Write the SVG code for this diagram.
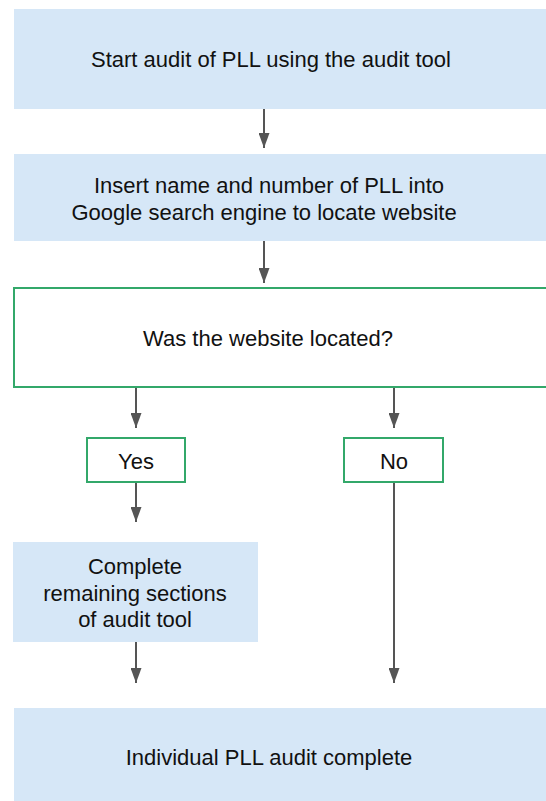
<svg xmlns="http://www.w3.org/2000/svg" width="546" height="801" viewBox="0 0 546 801">
<style>
.proc{fill:#d6e7f7;stroke:none}
.dec{fill:#ffffff;stroke:#33a86a;stroke-width:2}
.t{font-family:"Liberation Sans",Arial,sans-serif;font-size:22px;fill:#111;text-anchor:middle}
.c{stroke:#555555;stroke-width:2;fill:none;marker-end:url(#ah)}
</style>
<defs>
<marker id="ah" viewBox="0 0 15 11" refX="15" refY="5.5" markerWidth="15" markerHeight="11" markerUnits="userSpaceOnUse" orient="auto">
<path d="M0,0 L15,5.5 L0,11 Z" fill="#555555"/>
</marker>
</defs>
<rect width="546" height="801" fill="#ffffff"/>
<g id="connectors">
<line class="c" x1="264" y1="109" x2="264" y2="148"/>
<line class="c" x1="264" y1="241" x2="264" y2="283"/>
<line class="c" x1="136" y1="388" x2="136" y2="428"/>
<line class="c" x1="394" y1="388" x2="394" y2="428"/>
<line class="c" x1="136" y1="483" x2="136" y2="522"/>
<line class="c" x1="136" y1="642" x2="136" y2="683"/>
<line class="c" x1="394" y1="483" x2="394" y2="683"/>
</g>
<g id="start">
<rect class="proc" x="14" y="9" width="532" height="100"/>
<text class="t" x="271" y="67">Start audit of PLL using the audit tool</text>
</g>
<g id="insert">
<rect class="proc" x="14" y="154" width="532" height="87"/>
<text class="t" x="269" y="193">Insert name and number of PLL into</text>
<text class="t" x="264" y="220">Google search engine to locate website</text>
</g>
<g id="decision">
<rect class="dec" x="14" y="288" width="540" height="99"/>
<text class="t" x="268" y="346">Was the website located?</text>
</g>
<g id="yes">
<rect class="dec" x="87" y="438" width="98" height="44"/>
<text class="t" x="136" y="469">Yes</text>
</g>
<g id="no">
<rect class="dec" x="344" y="438" width="99" height="44"/>
<text class="t" x="394" y="469">No</text>
</g>
<g id="complete">
<rect class="proc" x="13" y="542" width="245" height="100"/>
<text class="t" x="135" y="574">Complete</text>
<text class="t" x="135" y="601">remaining sections</text>
<text class="t" x="135" y="627">of audit tool</text>
</g>
<g id="done">
<rect class="proc" x="14" y="708" width="532" height="93"/>
<text class="t" x="269" y="765">Individual PLL audit complete</text>
</g>
</svg>
